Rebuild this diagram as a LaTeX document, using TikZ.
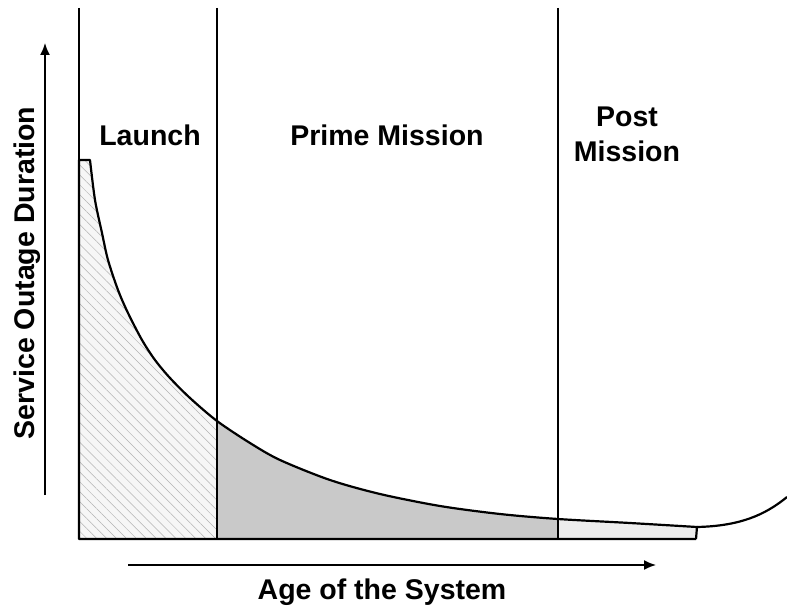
\documentclass[tikz,border=0pt]{standalone}
\usepackage{fontspec}
\setmainfont{Liberation Sans}
\usetikzlibrary{patterns.meta,arrows.meta}
\tikzset{
  lbl/.style={font=\fontsize{28.5}{35}\selectfont\bfseries,align=center},
  bar/.style={line width=1.2pt},
}
\def\launchpts{(90,160) (95,200) (102,233) (108,260) (118,290) (128,313) (142,340) (155,360) (170,378) (190,398) (217,421)}
\def\primepts{(217,421) (250,443) (280,460) (330,480) (380,494) (440,506) (500,514) (558,519)}
\def\postpts{(558,519) (630,523) (697,527)}
\begin{document}
\begin{tikzpicture}[x=1pt,y=-1pt]
\useasboundingbox (0,0) rectangle (787,610);
\fill[gray!7,postaction={pattern={Lines[angle=-45,distance=7pt,line width=0.5pt]},pattern color=gray!60}]
  (79,539)--(79,160)--plot[smooth] coordinates {\launchpts}--(217,539)--cycle;
\fill[gray!42] (217,539)--plot[smooth] coordinates {\primepts}--(558,539)--cycle;
\fill[gray!14] (558,539)--plot[smooth] coordinates {\postpts}--(696,539)--cycle;
\draw[bar] (79,8)--(79,539);
\draw[bar] (217,8)--(217,539);
\draw[bar] (558,8)--(558,539);
\draw[line width=2.2pt,line join=round] (696,539)--(79,539)--(79,160)--plot[smooth] coordinates {(90,160) (95,200) (102,233) (108,260) (118,290) (128,313) (142,340) (155,360) (170,378) (190,398) (217,421) (250,443) (280,460) (330,480) (380,494) (440,506) (500,514) (558,519) (630,523) (697,527)}--(696,539);
\draw[line width=2.2pt] (697,527) .. controls (740,526) and (765,515) .. (787,497);
\coordinate (y0) at (45,495);
\coordinate (y1) at (45,43);
\coordinate (x0) at (128,565);
\coordinate (x1) at (656,565);
\draw[-{Latex[length=12pt,width=10pt]},line width=1.6pt] (y0)--(y1);
\draw[-{Latex[length=12pt,width=10pt]},line width=1.6pt] (x0)--(x1);
\node[lbl,rotate=90] (ylab) at (27,273) {Service Outage Duration};
\node[lbl] (xlab) at (382,592) {Age of the System};
\node[lbl] (launch) at (150,135) {Launch};
\node[lbl] (prime) at (387,135) {Prime Mission};
\node[lbl] (post) at (627,134) {Post\\Mission};
\end{tikzpicture}
\end{document}
